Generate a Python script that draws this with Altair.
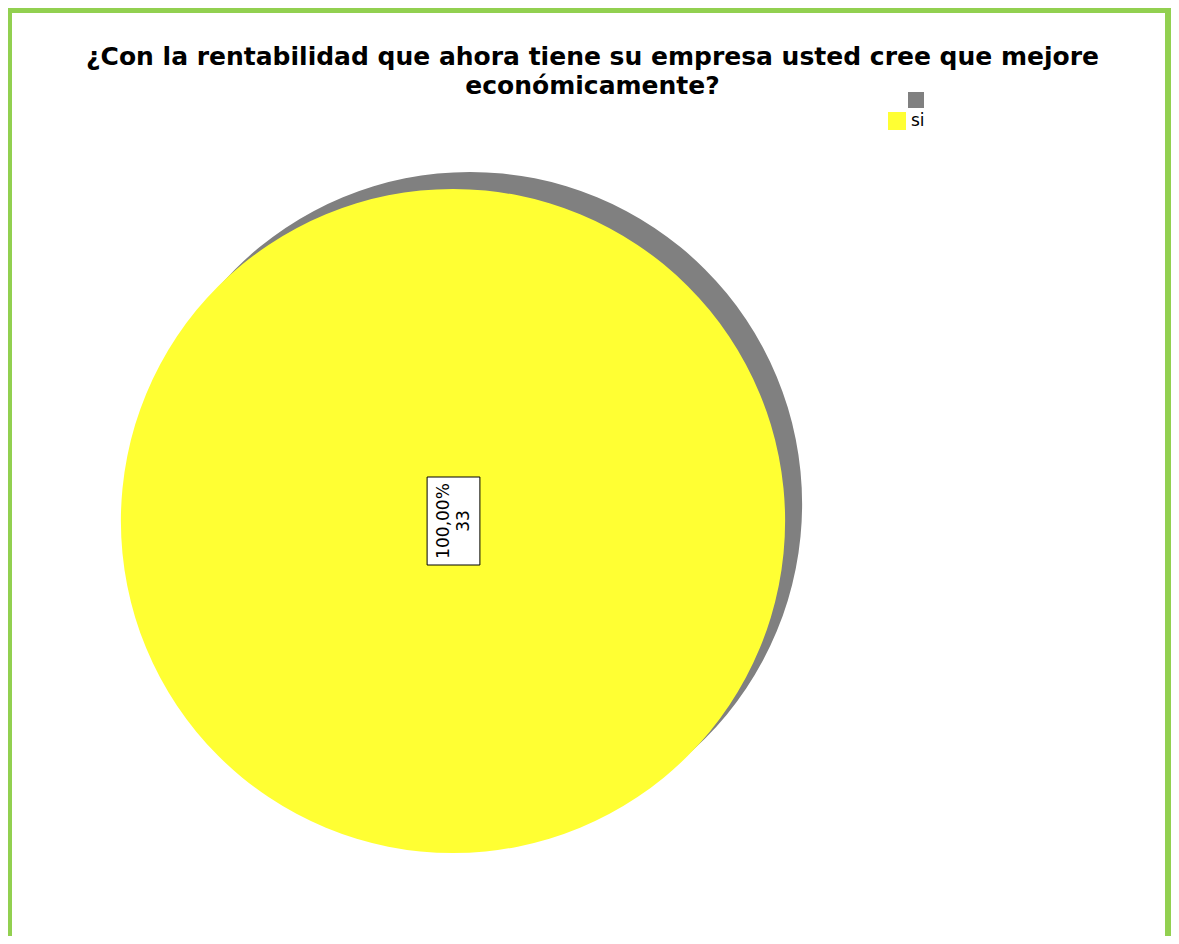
import altair as alt
import pandas as pd

# ---- data ----
categorias = ["si"]
conteos = [33]
porcentajes = ["100,00%"]
sombra_cat = [" "]

df = pd.DataFrame({"respuesta": categorias, "conteo": conteos, "porcentaje": porcentajes})
df["etiqueta"] = df["porcentaje"] + "\n" + df["conteo"].astype(str)
df["sombra"] = sombra_cat

# ---- layout / style ----
W, H = 1163, 928
CX, CY = 445, 513
R = 332
DX, DY = 17, -17
VERDE = "#92D050"
AMARILLO = "#FFFF33"
GRIS = "#808080"
FONT = "DejaVu Sans"

base = alt.Chart(df)

sombra = base.mark_arc(outerRadius=R).encode(
    theta=alt.Theta("conteo:Q"),
    fill=alt.Fill(
        "sombra:N",
        scale=alt.Scale(domain=sombra_cat, range=[GRIS]),
        legend=alt.Legend(title=None, orient="none", legendX=900, legendY=84,
                          symbolType="square", symbolSize=256, symbolStrokeWidth=0,
                          labelFontSize=2, padding=0),
    ),
    x=alt.value(CX + DX),
    y=alt.value(CY + DY),
)

pastel = base.mark_arc(outerRadius=R).encode(
    theta=alt.Theta("conteo:Q"),
    color=alt.Color(
        "respuesta:N",
        scale=alt.Scale(domain=categorias, range=[AMARILLO]),
        legend=alt.Legend(title=None, orient="none", legendX=880, legendY=104,
                          symbolType="square", symbolSize=324, symbolStrokeWidth=0,
                          labelFont=FONT, labelFontSize=17, labelColor="black",
                          labelOffset=5, padding=0),
    ),
    x=alt.value(CX),
    y=alt.value(CY),
)

caja = base.mark_point(
    shape="M-0.6,-1L0.6,-1L0.6,1L-0.6,1Z", size=88 * 88, filled=True,
    fill="white", stroke="black", strokeWidth=1, opacity=1,
).encode(x=alt.value(CX + 0.5), y=alt.value(CY))

texto = base.mark_text(
    angle=270, lineBreak="\n", font=FONT, fontSize=17, lineHeight=20,
    color="black", align="center", baseline="middle",
).encode(text="etiqueta:N", x=alt.value(CX - 9), y=alt.value(CY))

borde_izq = base.mark_rule(color=VERDE, strokeWidth=6).encode(
    x=alt.value(1), y=alt.value(-1), y2=alt.value(H))
borde_sup = base.mark_rule(color=VERDE, strokeWidth=6).encode(
    x=alt.value(-2), x2=alt.value(W), y=alt.value(2))
borde_der = base.mark_rule(color=VERDE, strokeWidth=6).encode(
    x=alt.value(W - 3), y=alt.value(-1), y2=alt.value(H))

chart = alt.layer(sombra, pastel, caja, texto, borde_izq, borde_sup, borde_der).properties(
    width=W, height=H,
    title=alt.Title(
        ["¿Con la rentabilidad que ahora tiene su empresa usted cree que mejore",
         "económicamente?"],
        font=FONT, fontSize=25, fontWeight="bold", color="black",
        anchor="middle", offset=-95, lineHeight=29, dx=3,
    ),
    autosize=alt.AutoSizeParams(type="none"),
    padding=0,
).resolve_scale(color="independent", fill="independent").configure_view(stroke=None)

chart.save("out.html", embed_options={"renderer": "svg", "actions": False})
